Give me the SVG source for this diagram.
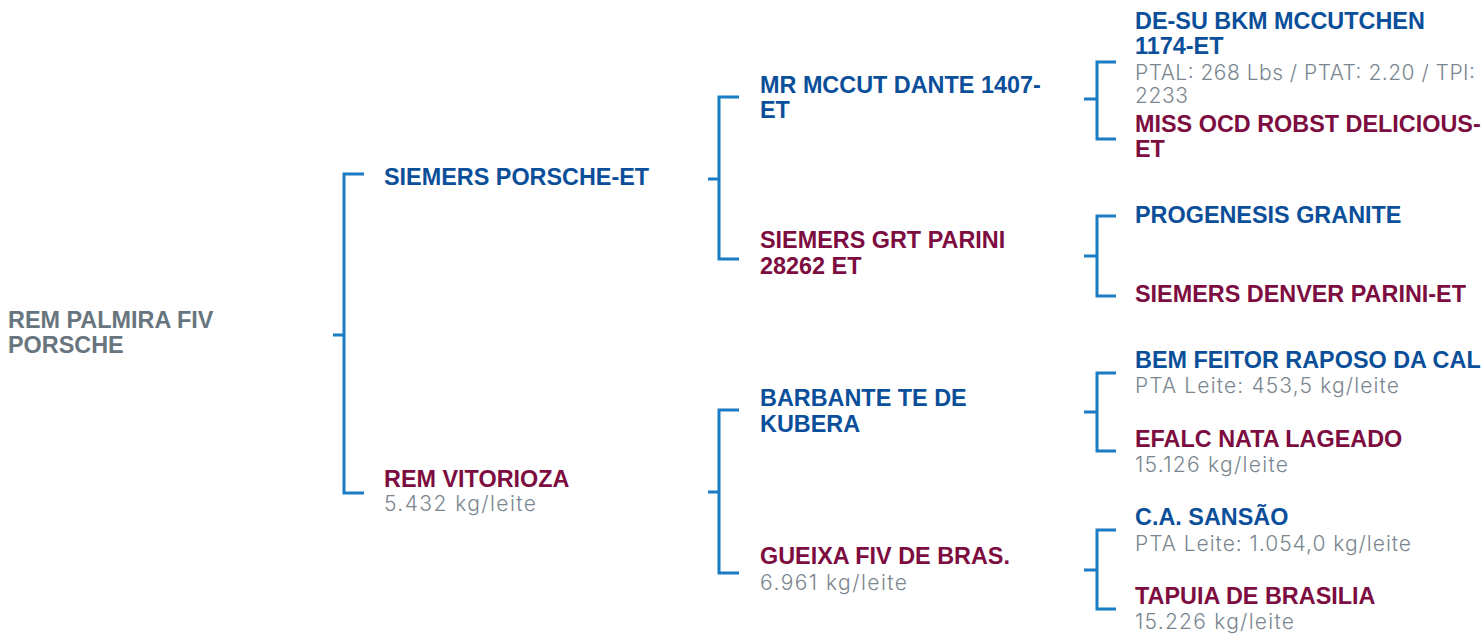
<svg xmlns="http://www.w3.org/2000/svg" width="1482" height="635" viewBox="0 0 1482 635">
<style>
.b{font-family:"Liberation Sans",Arial,sans-serif;font-weight:bold;font-size:23.4px}
.blue{fill:#0b4f9a}
.red{fill:#7d0c40}
.root{fill:#68757e}
.g{font-family:Inter,"Noto Sans",sans-serif;font-weight:300;font-size:21px;fill:#7a868f}
.br{fill:none;stroke:#1a7cc4;stroke-width:3}
</style>
<rect width="1482" height="635" fill="#ffffff"/>
<g id="connectors">
<path class="br" d="M364,174 H344 V493 H364 M344,335 H333"/>
<path class="br" d="M739,97 H719 V259 H739 M719,179 H708"/>
<path class="br" d="M739,410 H719 V573 H739 M719,492 H708"/>
<path class="br" d="M1116,62 H1097 V139 H1116 M1097,99 H1084"/>
<path class="br" d="M1116,216 H1097 V296 H1116 M1097,256 H1084"/>
<path class="br" d="M1116,373 H1097 V451 H1116 M1097,412 H1084"/>
<path class="br" d="M1116,530 H1097 V609 H1116 M1097,570 H1084"/>
</g>
<g id="root"><text class="b root" x="8" y="328">REM PALMIRA FIV</text><text class="b root" x="8" y="353">PORSCHE</text></g>
<g id="sire"><text class="b blue" x="384" y="185">SIEMERS PORSCHE-ET</text></g>
<g id="dam"><text class="b red" x="384" y="487">REM VITORIOZA</text><text class="g" x="384" y="511" textLength="152">5.432 kg/leite</text></g>
<g id="ss"><text class="b blue" x="760" y="93">MR MCCUT DANTE 1407-</text><text class="b blue" x="760" y="118">ET</text></g>
<g id="sd"><text class="b red" x="760" y="248">SIEMERS GRT PARINI</text><text class="b red" x="760" y="274">28262 ET</text></g>
<g id="ds"><text class="b blue" x="760" y="406">BARBANTE TE DE</text><text class="b blue" x="760" y="432">KUBERA</text></g>
<g id="dd"><text class="b red" x="760" y="564">GUEIXA FIV DE BRAS.</text><text class="g" x="760" y="590" textLength="147">6.961 kg/leite</text></g>
<g id="sss"><text class="b blue" x="1135" y="29">DE-SU BKM MCCUTCHEN</text><text class="b blue" x="1135" y="54">1174-ET</text><text class="g" x="1135" y="80" textLength="340">PTAL: 268 Lbs / PTAT: 2.20 / TPI:</text><text class="g" x="1135" y="103" textLength="53">2233</text></g>
<g id="ssd"><text class="b red" x="1135" y="132">MISS OCD ROBST DELICIOUS-</text><text class="b red" x="1135" y="157">ET</text></g>
<g id="sds"><text class="b blue" x="1135" y="223">PROGENESIS GRANITE</text></g>
<g id="sdd"><text class="b red" x="1135" y="302">SIEMERS DENVER PARINI-ET</text></g>
<g id="dss"><text class="b blue" x="1135" y="368">BEM FEITOR RAPOSO DA CAL</text><text class="g" x="1135" y="393" textLength="264">PTA Leite: 453,5 kg/leite</text></g>
<g id="dsd"><text class="b red" x="1135" y="447">EFALC NATA LAGEADO</text><text class="g" x="1135" y="472" textLength="153">15.126 kg/leite</text></g>
<g id="dds"><text class="b blue" x="1135" y="525">C.A. SANSÃO</text><text class="g" x="1135" y="551" textLength="276">PTA Leite: 1.054,0 kg/leite</text></g>
<g id="ddd"><text class="b red" x="1135" y="604">TAPUIA DE BRASILIA</text><text class="g" x="1135" y="629" textLength="159">15.226 kg/leite</text></g>
</svg>
